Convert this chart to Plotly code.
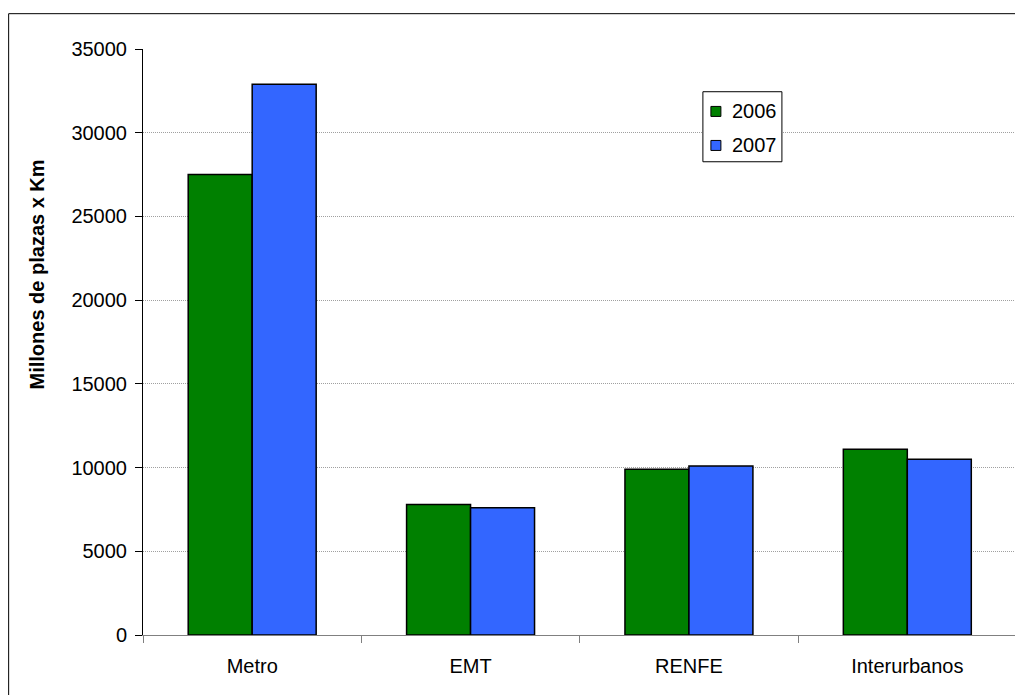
import plotly.graph_objects as go

categories = ["Metro", "EMT", "RENFE", "Interurbanos"]
values_2006 = [27500, 7800, 9900, 11100]
values_2007 = [32900, 7600, 10100, 10500]
series_names = ["2006", "2007"]
series_colors = ["#008000", "#3366FF"]
y_ticks = [0, 5000, 10000, 15000, 20000, 25000, 30000, 35000]
y_title = "Millones de plazas x Km"

W, H = 1015, 695
L, R, T, B = 143.3, 0, 49.3, 60
pw = W - L - R
ph = H - T - B

def px_x(p):
    return (p - L) / pw

def px_y(p):
    return (H - B - p) / ph

FONT = "Liberation Sans, Arial, sans-serif"

fig = go.Figure()
for name, vals, col in zip(series_names, [values_2006, values_2007], series_colors):
    fig.add_trace(go.Bar(x=categories, y=vals, name=name, showlegend=False,
                         marker=dict(color=col, line=dict(color="#000000", width=1.5))))

shapes = [
    # outer chart frame (left and top edges visible)
    dict(type="path", xref="paper", yref="paper",
         path=f"M {px_x(9)},{px_y(720)} L {px_x(9)},{px_y(14)} L {px_x(1030)},{px_y(14)}",
         line=dict(color="#000000", width=1)),
    # legend box
    dict(type="rect", xref="paper", yref="paper",
         x0=px_x(703), x1=px_x(782), y0=px_y(162), y1=px_y(92),
         fillcolor="white", line=dict(color="#000000", width=1), layer="above"),
]
annotations = []
legend_rows = [111.7, 145.7]
for name, col, yc in zip(series_names, series_colors, legend_rows):
    shapes.append(dict(type="rect", xref="paper", yref="paper",
                       x0=px_x(711), x1=px_x(721), y0=px_y(yc + 5), y1=px_y(yc - 5),
                       fillcolor=col, line=dict(color="#000000", width=1), layer="above"))
    annotations.append(dict(xref="paper", yref="paper", x=px_x(730), y=px_y(yc),
                            xanchor="left", yanchor="middle", text=name, showarrow=False,
                            font=dict(size=20, color="#000000")))

annotations.append(dict(xref="paper", yref="paper", x=px_x(37), y=px_y(275),
                        xanchor="center", yanchor="middle", textangle=-90,
                        text="<b>" + y_title + "</b>", showarrow=False,
                        font=dict(size=20, color="#000000")))

fig.update_layout(
    width=W, height=H,
    margin=dict(l=L, r=R, t=T, b=B, autoexpand=False),
    paper_bgcolor="white", plot_bgcolor="white",
    barmode="group", bargap=0.414, bargroupgap=0,
    font=dict(family=FONT, size=20, color="#000000"),
    showlegend=False,
    xaxis=dict(range=[-0.5, 3.5 - 1.5 / 218.3], showline=True, linecolor="#808080", linewidth=1,
               ticks="outside", tickson="boundaries", ticklen=7, tickcolor="#808080",
               showgrid=False, zeroline=False, tickfont=dict(size=20), ticklabelstandoff=13),
    yaxis=dict(range=[0, 35000], tickvals=y_ticks, ticktext=[str(v) for v in y_ticks],
               showline=True, linecolor="#000000", linewidth=1,
               ticks="outside", ticklen=7, tickcolor="#000000",
               showgrid=True, gridcolor="#a0a0a0", griddash="1px,1px", gridwidth=1,
               zeroline=False, tickfont=dict(size=20), ticklabelstandoff=4),
    shapes=shapes,
    annotations=annotations,
)

fig.write_html("out.html", config={"displayModeBar": False},
               post_script="document.body.style.margin='0';document.body.style.overflow='hidden';")
